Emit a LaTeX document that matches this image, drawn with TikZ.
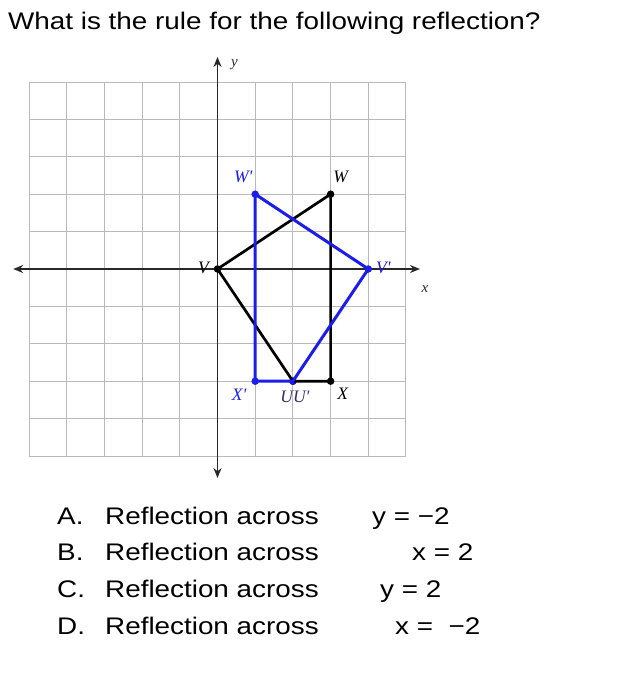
\documentclass[tikz,border=0pt]{standalone}
\usepackage{fontspec}
\setmainfont{Liberation Sans}[FakeStretch=1.16]
\newfontfamily\labelfont{Liberation Serif}
\usetikzlibrary{arrows.meta}
\definecolor{imgblue}{RGB}{28,28,235}
\definecolor{gridgray}{RGB}{185,185,185}
\definecolor{axisgray}{RGB}{40,40,40}
\definecolor{labelnavy}{RGB}{50,50,105}
\begin{document}
\begin{tikzpicture}[x=1pt, y=-1pt,
    every node/.style={inner sep=0pt},
    txt/.style={anchor=base west, font=\fontsize{24}{28}\selectfont},
    ptlabel/.style={font=\labelfont\itshape\fontsize{17.5}{20}\selectfont},
    axlabel/.style={font=\labelfont\itshape\fontsize{15}{17}\selectfont},
    dot/.style={circle, fill, minimum size=7.5pt, inner sep=0pt},
    axis/.style={axisgray, line width=1.5pt, {Stealth[length=10pt,width=8pt]}-{Stealth[length=10pt,width=8pt]}},
    edge/.style={line width=2.7pt, line join=round}]
    \useasboundingbox (0,0) rectangle (638,674);

    % Question and answer choices
    \node[txt] (Q) at (8,30) {What is the rule for the following reflection?};
    \node[txt] (Alab) at (57,524.5) {A.};
    \node[txt] (Blab) at (57,560.5) {B.};
    \node[txt] (Clab) at (57,597.5) {C.};
    \node[txt] (Dlab) at (57,634.5) {D.};
    \node[txt] (A) at (105,524.5) {Reflection across};
    \node[txt] (B) at (105,560.5) {Reflection across};
    \node[txt] (C) at (105,597.5) {Reflection across};
    \node[txt] (D) at (105,634.5) {Reflection across};
    \node[txt] (Aeq) at (372,524.5) {y = −2};
    \node[txt] (Beq) at (412,560.5) {x = 2};
    \node[txt] (Ceq) at (380,597.5) {y = 2};
    \node[txt] (Deq) at (395,634.5) {x =\ \ −2};

    % Coordinate plane
    \begin{scope}[shift={(217.5pt,-269pt)}, x=37.7pt, y=37.4pt]
        \draw[gridgray, line width=1pt, xstep=37.7pt, ystep=37.4pt] (-5,-5) grid (5,5);
        \coordinate (xl) at (-5.42,0);
        \coordinate (xr) at (5.37,0);
        \coordinate (yb) at (0,-5.59);
        \coordinate (yt) at (0,5.67);
        \draw[axis] (xl) -- (xr);
        \draw[axis] (yb) -- (yt);
        \node[axlabel, axisgray] (ylab) at ([xshift=17pt, yshift=-8pt]yt) {y};
        \node[axlabel, axisgray] (xlab) at ([xshift=5pt, yshift=-20pt]xr) {x};

        % Define the vertices
        \node[dot] (V) at (0,0) {};
        \node[dot] (W) at (3,2) {};
        \node[dot] (X) at (3,-3) {};
        \node[dot] (U) at (2,-3) {};
        \node[dot, imgblue] (V1) at (4,0) {};
        \node[dot, imgblue] (W1) at (1,2) {};
        \node[dot, imgblue] (X1) at (1,-3) {};
        \node[dot, imgblue] (U1) at (2,-3) {};

        % Original figure
        \draw[edge] (V.center) -- (W.center) -- (X.center) -- (U.center) -- cycle;
        % Image
        \draw[edge, imgblue, line width=3pt] (V1.center) -- (W1.center) -- (X1.center) -- (U1.center) -- cycle;

        % Vertex labels
        \node[ptlabel] at ([xshift=-14pt, yshift=1pt]V) {V};
        \node[ptlabel] at ([xshift=10pt, yshift=17pt]W) {W};
        \node[ptlabel] at ([xshift=12pt, yshift=-13pt]X) {X};
        \node[ptlabel, labelnavy] at ([xshift=2pt, yshift=-16pt]U) {UU'};
        \node[ptlabel, imgblue] at ([xshift=15pt, yshift=1pt]V1) {V'};
        \node[ptlabel, imgblue] at ([xshift=-12pt, yshift=17pt]W1) {W'};
        \node[ptlabel, imgblue] at ([xshift=-16pt, yshift=-14pt]X1) {X'};
    \end{scope}
\end{tikzpicture}
\end{document}
